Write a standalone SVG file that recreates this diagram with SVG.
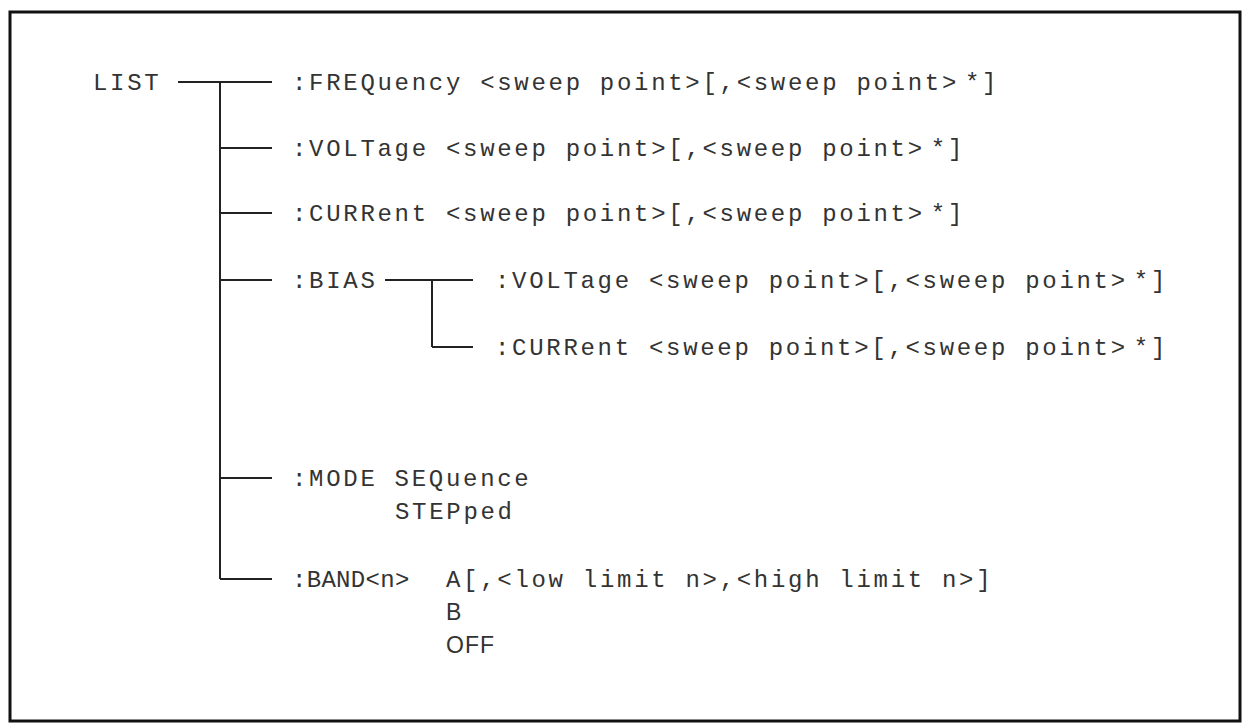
<svg xmlns="http://www.w3.org/2000/svg" width="1245" height="726" viewBox="0 0 1245 726">
  <style>
    .t { font-family: "Liberation Mono", "DejaVu Sans Mono", monospace; font-size: 24px; letter-spacing: 2.7px; fill: #333; }
    .b { font-family: "Liberation Mono", "DejaVu Sans Mono", monospace; font-size: 24px; letter-spacing: 0.3px; fill: #333; }
    .s { font-family: "Liberation Sans", Arial, sans-serif; font-size: 23px; letter-spacing: 1px; fill: #333; }
    .ln { stroke: #222; stroke-width: 2; fill: none; }
  </style>
  <rect x="10" y="12" width="1230" height="709" fill="#fff" stroke="#111" stroke-width="3"/>
  <g id="connectors">
    <line class="ln" x1="178" y1="82" x2="272" y2="82"/>
    <line class="ln" x1="220" y1="82" x2="220" y2="579"/>
    <line class="ln" x1="220" y1="148" x2="272" y2="148"/>
    <line class="ln" x1="220" y1="213" x2="272" y2="213"/>
    <line class="ln" x1="220" y1="280" x2="272" y2="280"/>
    <line class="ln" x1="220" y1="478" x2="272" y2="478"/>
    <line class="ln" x1="220" y1="579" x2="272" y2="579"/>
    <line class="ln" x1="385" y1="280" x2="473" y2="280"/>
    <line class="ln" x1="432" y1="280" x2="432" y2="347"/>
    <line class="ln" x1="432" y1="347" x2="473" y2="347"/>
  </g>
  <g id="list"><text class="t" x="93" y="90">LIST</text></g>
  <g id="frequency"><text class="t" x="292" y="90">:FREQuency &lt;sweep point&gt;[,&lt;sweep point&gt;<tspan dx="6">*]</tspan></text></g>
  <g id="voltage"><text class="t" x="292" y="156">:VOLTage &lt;sweep point&gt;[,&lt;sweep point&gt;<tspan dx="6">*]</tspan></text></g>
  <g id="current"><text class="t" x="292" y="221">:CURRent &lt;sweep point&gt;[,&lt;sweep point&gt;<tspan dx="6">*]</tspan></text></g>
  <g id="bias"><text class="t" x="292" y="288">:BIAS</text></g>
  <g id="bias-voltage"><text class="t" x="495" y="288">:VOLTage &lt;sweep point&gt;[,&lt;sweep point&gt;<tspan dx="6">*]</tspan></text></g>
  <g id="bias-current"><text class="t" x="495" y="355">:CURRent &lt;sweep point&gt;[,&lt;sweep point&gt;<tspan dx="6">*]</tspan></text></g>
  <g id="mode">
    <text class="t" x="292" y="486">:MODE SEQuence</text>
    <text class="t" x="395" y="519">STEPped</text>
  </g>
  <g id="band">
    <text class="b" x="292" y="587">:BAND&lt;n&gt;</text>
    <text class="t" x="446" y="587">A[,&lt;low limit n&gt;,&lt;high limit n&gt;]</text>
    <text class="s" x="446" y="620">B</text>
    <text class="s" x="446" y="653">OFF</text>
  </g>
</svg>
